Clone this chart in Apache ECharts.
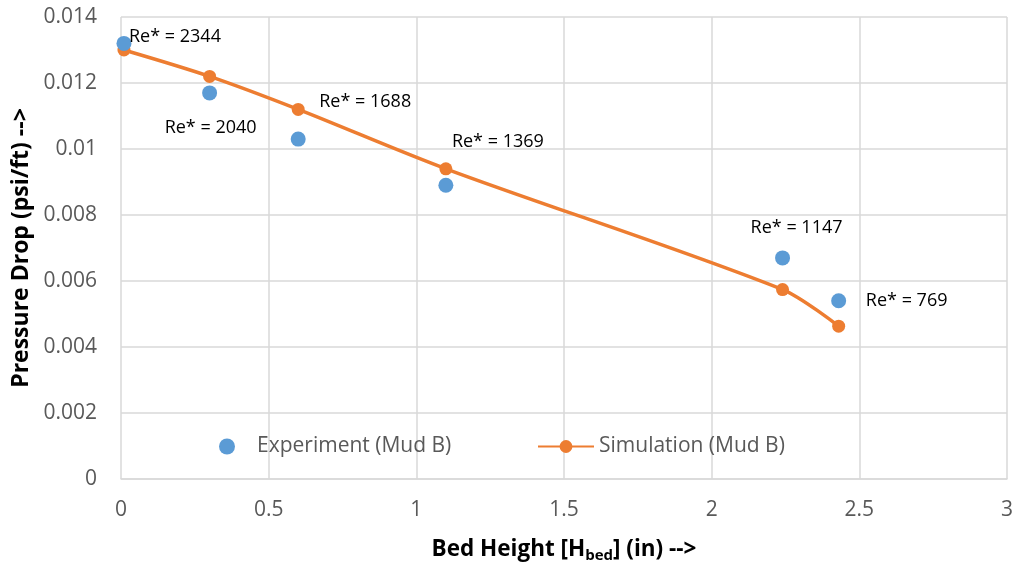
<!DOCTYPE html>
<html>
<head>
<meta charset="utf-8">
<script src="https://cdn.jsdelivr.net/npm/echarts@6/dist/echarts.min.js"></script>
<style>
  html, body { margin: 0; padding: 0; background: #fff; }
  #chart { width: 1016px; height: 569px; }
</style>
</head>
<body>
<div id="chart"></div>
<script>
// Bed height (in) for each run
const bedHeight = [0.01, 0.30, 0.60, 1.10, 2.24, 2.43];
// Measured pressure drop (psi/ft)
const experimentDrop = [0.0132, 0.0117, 0.0103, 0.0089, 0.0067, 0.0054];
// Simulated pressure drop (psi/ft)
const simulationDrop = [0.0130, 0.0122, 0.0112, 0.0094, 0.00574, 0.00463];
// Modified Reynolds number of each run
const reynolds = [2344, 2040, 1688, 1369, 1147, 769];

// Pixel offsets of the Re* annotations relative to their points
const labelOffsets = [[51, -7], [1, 35], [67, -37], [52, -43], [14, -30], [68, 0]];

const FONT = '"Open Sans", "Noto Sans", sans-serif';
const GRID = '#d9d9d9';
const TICK = '#595959';

const experimentData = bedHeight.map((x, i) => ({
  value: [x, experimentDrop[i]],
  label: {
    show: true,
    position: 'inside',
    offset: labelOffsets[i],
    formatter: 'Re* = ' + reynolds[i],
    color: '#000',
    fontFamily: FONT,
    fontSize: 18
  }
}));
const simulationData = bedHeight.map((x, i) => [x, simulationDrop[i]]);

const chart = echarts.init(document.getElementById('chart'), null, { renderer: 'canvas' });
chart.setOption({
  animation: false,
  backgroundColor: '#fff',
  grid: { left: 121, right: 9, top: 17, bottom: 90, containLabel: false },
  xAxis: {
    type: 'value',
    min: 0, max: 3, interval: 0.5,
    name: 'Bed Height [H{sub|bed}] (in) -->',
    nameLocation: 'middle',
    nameGap: 58,
    nameTextStyle: {
      fontFamily: FONT, fontSize: 22.5, fontWeight: 'bold', color: '#000',
      rich: {
        sub: { fontFamily: FONT, fontSize: 15, fontWeight: 'bold', color: '#000', padding: [11, 0, 0, 0] }
      }
    },
    axisLine: { show: true, lineStyle: { color: GRID, width: 1.5 } },
    axisTick: { show: false },
    axisLabel: { color: TICK, fontFamily: FONT, fontSize: 21, margin: 21 },
    splitLine: { show: true, lineStyle: { color: GRID, width: 1.5 } }
  },
  yAxis: {
    type: 'value',
    min: 0, max: 0.014, interval: 0.002,
    name: 'Pressure Drop (psi/ft) -->',
    nameLocation: 'middle',
    nameGap: 87,
    nameTextStyle: { fontFamily: FONT, fontSize: 23, fontWeight: 'bold', color: '#000' },
    axisLine: { show: false },
    axisTick: { show: false },
    axisLabel: { color: TICK, fontFamily: FONT, fontSize: 21, margin: 24 },
    splitLine: { show: true, lineStyle: { color: GRID, width: 1.5 } }
  },
  legend: [
    {
      data: ['Experiment (Mud B)'],
      left: 214, top: 431,
      itemWidth: 16, itemHeight: 16,
      textStyle: { color: TICK, fontFamily: FONT, fontSize: 21, padding: [0, 0, 0, 17] }
    },
    {
      data: ['Simulation (Mud B)'],
      left: 532, top: 431,
      itemWidth: 56, itemHeight: 16,
      textStyle: { color: TICK, fontFamily: FONT, fontSize: 21 }
    }
  ],
  series: [
    {
      name: 'Simulation (Mud B)',
      type: 'line',
      data: simulationData,
      smooth: 0.3,
      symbol: 'circle',
      symbolSize: 13,
      itemStyle: { color: '#ED7D31', opacity: 1 },
      lineStyle: { color: '#ED7D31', width: 3.5 },
      z: 2
    },
    {
      name: 'Experiment (Mud B)',
      type: 'scatter',
      data: experimentData,
      symbol: 'circle',
      symbolSize: 15,
      itemStyle: { color: '#5B9BD5', opacity: 1 },
      z: 3
    }
  ]
});
</script>
</body>
</html>
